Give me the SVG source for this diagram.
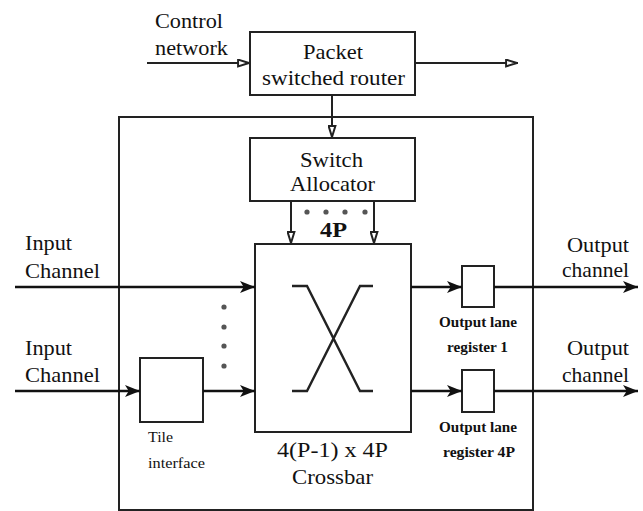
<svg xmlns="http://www.w3.org/2000/svg" width="643" height="511" viewBox="0 0 643 511">
<style>
text{font-family:"Liberation Serif","Times New Roman",serif;fill:#111}
.t{font-size:22px}
.s{font-size:14px;font-weight:bold}
.box{fill:#fff;stroke:#222;stroke-width:2}
.ln{fill:none;stroke:#222;stroke-width:2}
.ch{fill:none;stroke:#111;stroke-width:2.6}
.dot{fill:#555}
</style>
<defs>
<marker id="open" viewBox="0 0 12 8" refX="12" refY="4" markerWidth="13" markerHeight="9" markerUnits="userSpaceOnUse" orient="auto" preserveAspectRatio="none"><path d="M1,1 L11,4 L1,7 Z" fill="#fff" stroke="#222" stroke-width="1.8"/></marker>
<marker id="fill" viewBox="0 0 10 10" refX="10" refY="5" markerWidth="15" markerHeight="12" markerUnits="userSpaceOnUse" orient="auto" preserveAspectRatio="none"><path d="M0,0 L10,5 L0,10 L2.5,5 Z" fill="#111"/></marker>
</defs>
<rect id="outer" x="119" y="117" width="414" height="393" fill="none" stroke="#222" stroke-width="2"/>
<g id="router"><rect x="250" y="32" width="165" height="63" class="box"/><text class="t" x="303" y="59" textLength="60" lengthAdjust="spacingAndGlyphs">Packet</text><text class="t" x="262" y="85" textLength="143" lengthAdjust="spacingAndGlyphs">switched router</text></g>
<g id="allocator"><rect x="250" y="138" width="165" height="63" class="box"/><text class="t" x="300" y="167" textLength="63" lengthAdjust="spacingAndGlyphs">Switch</text><text class="t" x="290" y="191" textLength="85" lengthAdjust="spacingAndGlyphs">Allocator</text></g>
<g id="crossbar"><rect x="255" y="244" width="156" height="188" class="box"/><path class="ln" d="M292,286 H307 L360,391 H373 M292,391 H307 L360,286 H373" style="stroke-width:2.4"/><text class="t" x="277" y="457" textLength="111" lengthAdjust="spacingAndGlyphs">4(P-1) x 4P</text><text class="t" x="292" y="484" textLength="81" lengthAdjust="spacingAndGlyphs">Crossbar</text></g>
<g id="tile"><rect x="140" y="358" width="63" height="64" class="box"/><text x="148" y="442" style="font-size:14px" textLength="25" lengthAdjust="spacingAndGlyphs">Tile</text><text x="148" y="468" style="font-size:14px" textLength="57" lengthAdjust="spacingAndGlyphs">interface</text></g>
<g id="reg1"><rect x="462" y="266" width="32" height="41" class="box"/><text class="s" x="439" y="327" textLength="78" lengthAdjust="spacingAndGlyphs">Output lane</text><text class="s" x="447" y="352" textLength="61" lengthAdjust="spacingAndGlyphs">register 1</text></g>
<g id="reg4p"><rect x="462" y="370" width="32" height="42" class="box"/><text class="s" x="439" y="432" textLength="78" lengthAdjust="spacingAndGlyphs">Output lane</text><text class="s" x="443" y="457" textLength="72" lengthAdjust="spacingAndGlyphs">register 4P</text></g>
<g id="labels">
<text class="t" x="155" y="28" textLength="68" lengthAdjust="spacingAndGlyphs">Control</text><text class="t" x="155" y="55" textLength="73" lengthAdjust="spacingAndGlyphs">network</text>
<text class="t" x="25" y="250" textLength="47" lengthAdjust="spacingAndGlyphs">Input</text><text class="t" x="25" y="278" textLength="75" lengthAdjust="spacingAndGlyphs">Channel</text>
<text class="t" x="25" y="355" textLength="47" lengthAdjust="spacingAndGlyphs">Input</text><text class="t" x="25" y="382" textLength="75" lengthAdjust="spacingAndGlyphs">Channel</text>
<text class="t" x="567" y="252" textLength="62" lengthAdjust="spacingAndGlyphs">Output</text><text class="t" x="562" y="277" textLength="67" lengthAdjust="spacingAndGlyphs">channel</text>
<text class="t" x="567" y="355" textLength="62" lengthAdjust="spacingAndGlyphs">Output</text><text class="t" x="562" y="382" textLength="67" lengthAdjust="spacingAndGlyphs">channel</text>
<text class="t" x="320" y="237" style="font-weight:bold" textLength="27" lengthAdjust="spacingAndGlyphs">4P</text>
</g>
<g id="dots">
<circle class="dot" cx="307" cy="212" r="2.6"/><circle class="dot" cx="326" cy="212" r="2.6"/><circle class="dot" cx="345" cy="212" r="2.6"/><circle class="dot" cx="365" cy="212" r="2.6"/>
<circle class="dot" cx="224" cy="307" r="2.6"/><circle class="dot" cx="224" cy="327" r="2.6"/><circle class="dot" cx="224" cy="346" r="2.6"/><circle class="dot" cx="224" cy="366" r="2.6"/>
</g>
<g id="connectors">
<path class="ln" d="M147,63 H250" marker-end="url(#open)"/>
<path class="ln" d="M415,63 H518" marker-end="url(#open)"/>
<path class="ln" d="M332,95 V138" marker-end="url(#open)"/>
<path class="ln" d="M291,201 V244" marker-end="url(#open)"/>
<path class="ln" d="M374,201 V244" marker-end="url(#open)"/>
<path class="ch" d="M15,287 H255" marker-end="url(#fill)"/>
<path class="ch" d="M15,391 H140" marker-end="url(#fill)"/>
<path class="ch" d="M203,391 H255" marker-end="url(#fill)"/>
<path class="ch" d="M411,287 H462" marker-end="url(#fill)"/>
<path class="ch" d="M411,391 H462" marker-end="url(#fill)"/>
<path class="ch" d="M494,287 H638" marker-end="url(#fill)"/>
<path class="ch" d="M494,391 H638" marker-end="url(#fill)"/>
</g>
</svg>
